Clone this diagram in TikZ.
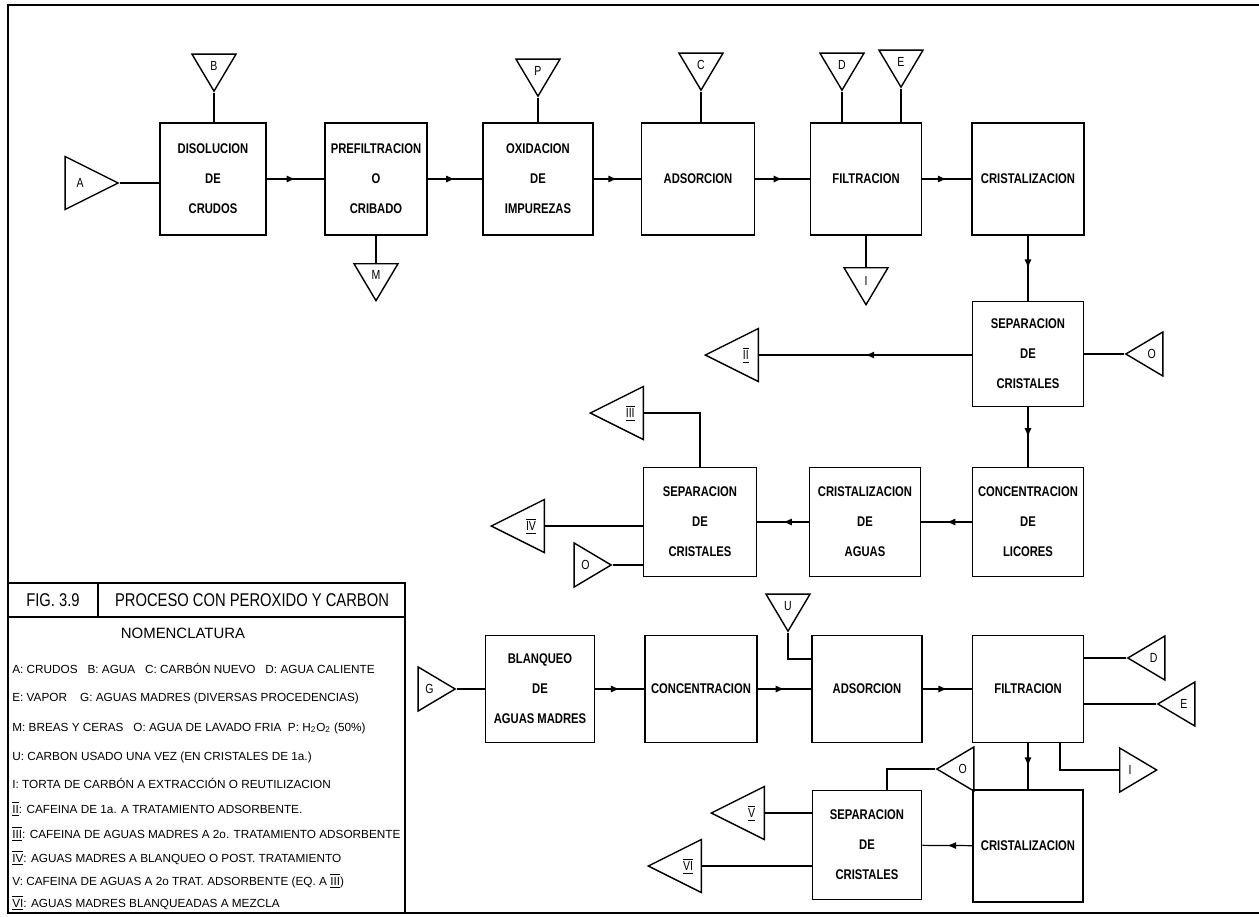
\documentclass[tikz,border=0pt]{standalone}
\usepackage{fontspec}
\setmainfont{Liberation Sans}[FakeStretch=0.8]
\newfontfamily\legfont{Liberation Sans}
\usetikzlibrary{shapes.geometric,decorations.markings,arrows.meta}

\newcommand{\rom}[1]{$\overline{\underline{\hbox{#1}}}$}

\tikzset{
  caja/.style={draw, line width=0.9pt, minimum width=2.22cm, minimum height=2.18cm,
    align=center, inner sep=1pt, font=\bfseries\fontsize{8}{17}\selectfont},
  alta/.style={minimum height=2.24cm},
  tri/.style={draw, isosceles triangle, isosceles triangle stretches, inner sep=0pt,
    line width=0.8pt, font=\fontsize{7.5}{8}\selectfont},
  chico/.style={tri, minimum width=0.88cm, minimum height=0.74cm},
  grande/.style={tri, minimum width=1.06cm, minimum height=1.06cm},
  abajo/.style={shape border rotate=270},
  izq/.style={shape border rotate=180},
  der/.style={shape border rotate=0},
  flujo/.style={line width=0.7pt},
  flecha/.style={flujo, postaction={decorate},
    decoration={markings, mark=at position 0.5 with {\arrow{Latex[length=5pt,width=4pt]}}}},
  leyenda/.style={anchor=west, inner sep=0pt, font=\legfont\fontsize{6.7}{8}\selectfont},
}

\begin{document}
\begin{tikzpicture}[x=0.02cm, y=-0.02cm]
   \useasboundingbox (0,0) rectangle (1259,917);

   % marco y cajetin
   \draw[line width=1pt] (1259,5) -- (8,5) -- (8,913) -- (1259,913);
   \draw[line width=0.9pt] (8,583) -- (405,583) -- (405,913);
   \draw[line width=0.9pt] (8,617) -- (405,617);
   \draw[line width=0.9pt] (98,583) -- (98,617);

   % primera linea: crudos hasta cristalizacion
   \node[caja, alta, minimum width=2.12cm] (dis) at (213,179) {DISOLUCION\\DE\\CRUDOS};
   \node[caja, alta, minimum width=2.04cm] (pre) at (376,179) {PREFILTRACION\\O\\CRIBADO};
   \node[caja, alta, minimum width=2.2cm] (oxi) at (538,179) {OXIDACION\\DE\\IMPUREZAS};
   \node[caja, alta, minimum width=2.26cm] (ads) at (698,179) {ADSORCION};
   \node[caja, alta] (fil) at (866,179) {FILTRACION};
   \node[caja, alta, minimum width=2.24cm] (cri) at (1028,179) {CRISTALIZACION};

   \node[grande, anchor=apex] (A) at (120,183) {A};
   \node[chico, abajo, anchor=apex] (B) at (214,93) {B};
   \node[chico, abajo, anchor=apex] (P) at (538,98) {P};
   \node[chico, abajo, anchor=apex] (C) at (701,92) {C};
   \node[chico, abajo, anchor=apex] (D) at (842,92) {D};
   \node[chico, abajo, anchor=apex] (E) at (901,89) {E};
   \node[chico, abajo, anchor=lower side] (M) at (376,263) {M};
   \node[chico, abajo, anchor=lower side] (I1) at (866,267) {I};

   \draw[flujo] (A.apex) -- (A.apex -| dis.west);
   \draw[flujo] (B.apex) -- (B.apex |- dis.north);
   \draw[flujo] (P.apex) -- (P.apex |- oxi.north);
   \draw[flujo] (C.apex) -- (C.apex |- ads.north);
   \draw[flujo] (D.apex) -- (D.apex |- fil.north);
   \draw[flujo] (E.apex) -- (E.apex |- fil.north);
   \draw[flecha] (dis) -- (pre);
   \draw[flecha] (pre) -- (oxi);
   \draw[flecha] (oxi) -- (ads);
   \draw[flecha] (ads) -- (fil);
   \draw[flecha] (fil) -- (cri);
   \draw[flujo] (pre.south) -- (M.lower side);
   \draw[flujo] (I1.lower side |- fil.south) -- (I1.lower side);

   % separacion y aguas madres
   \node[caja, minimum height=2.1cm] (sep1) at (1028,354) {SEPARACION\\DE\\CRISTALES};
   \node[caja] (con1) at (1028,522) {CONCENTRACION\\DE\\LICORES};
   \node[caja] (cria) at (865,522) {CRISTALIZACION\\DE\\AGUAS};
   \node[caja, minimum width=2.26cm] (sep2) at (700,522) {SEPARACION\\DE\\CRISTALES};

   \node[grande, izq, anchor=lower side] (II) at (759,355) {\rom{II}};
   \node[chico, izq, anchor=apex] (O1) at (1124,354) {O};
   \node[grande, izq, anchor=lower side] (III) at (644,413) {\rom{III}};
   \node[grande, izq, anchor=lower side] (IV) at (545,526) {\rom{IV}};
   \node[chico, der, anchor=apex] (O2) at (613,565) {O};

   \draw[flecha] (cri) -- (sep1);
   \draw[flecha] (sep1.west |- II.lower side) -- (II.lower side);
   \draw[flujo] (O1.apex) -- (O1.apex -| sep1.east);
   \draw[flecha] (sep1) -- (con1);
   \draw[flecha] (con1) -- (cria);
   \draw[flecha] (cria) -- (sep2);
   \draw[flujo] (sep2.north) |- (III.lower side);
   \draw[flujo] (sep2.west |- IV.lower side) -- (IV.lower side);
   \draw[flujo] (O2.apex) -- (O2.apex -| sep2.west);

   % blanqueo de aguas madres
   \node[caja, minimum width=2.18cm, minimum height=2.14cm] (bla) at (540,689) {BLANQUEO\\DE\\AGUAS MADRES};
   \node[caja, minimum width=2.24cm, minimum height=2.14cm] (con2) at (701,689) {CONCENTRACION};
   \node[caja, minimum width=2.2cm, minimum height=2.14cm] (ads2) at (867,689) {ADSORCION};
   \node[caja, minimum height=2.14cm] (fil2) at (1028,689) {FILTRACION};
   \node[caja, minimum width=2.2cm, minimum height=2.24cm] (cri2) at (1028,846) {CRISTALIZACION};
   \node[caja, minimum width=2.18cm] (sep3) at (867,845) {SEPARACION\\DE\\CRISTALES};

   \node[chico, der, anchor=apex] (G) at (457,689) {G};
   \node[chico, abajo, anchor=apex] (U) at (788,633) {U};
   \node[chico, izq, anchor=apex] (D2) at (1126,658) {D};
   \node[chico, izq, anchor=apex] (E2) at (1156,704) {E};
   \node[chico, der, anchor=lower side] (I2) at (1119,770) {I};
   \node[chico, izq, anchor=apex] (O3) at (935,769) {O};
   \node[grande, izq, anchor=lower side] (V) at (765,813) {\rom{V}};
   \node[grande, izq, anchor=lower side] (VI) at (702,866) {\rom{VI}};

   \draw[flujo] (G.apex) -- (G.apex -| bla.west);
   \draw[flecha] (bla) -- (con2);
   \draw[flecha] (con2) -- (ads2);
   \draw[flecha] (ads2) -- (fil2);
   \draw[flujo] (U.apex) |- ([yshift=0.6cm]ads2.west);
   \draw[flujo] (D2.apex) -- (D2.apex -| fil2.east);
   \draw[flujo] (E2.apex) -- (E2.apex -| fil2.east);
   \draw[flujo] ([xshift=0.64cm]fil2.south) |- (I2.lower side);
   \draw[flecha] (fil2) -- (cri2);
   \draw[flecha] (cri2) -- (sep3);
   \draw[flujo] ([xshift=0.4cm]sep3.north) |- (O3.apex);
   \draw[flujo] (sep3.west |- V.lower side) -- (V.lower side);
   \draw[flujo] (sep3.west |- VI.lower side) -- (VI.lower side);

   % cajetin: titulo y nomenclatura
   \node[font=\fontsize{10.5}{12}\selectfont] (fig) at (53,600) {FIG. 3.9};
   \node[font=\fontsize{10.5}{12}\selectfont] (tit) at (252,600) {PROCESO CON PEROXIDO Y CARBON};
   \node[font=\legfont\fontsize{8.5}{10}\selectfont] (nom) at (183,633) {NOMENCLATURA};
   \node[leyenda] (l1) at (12,668) {A: CRUDOS~~ B: AGUA~~ C: CARBÓN NUEVO~~ D: AGUA CALIENTE};
   \node[leyenda] (l2) at (12,698) {E: VAPOR~~~ G: AGUAS MADRES (DIVERSAS PROCEDENCIAS)};
   \node[leyenda] (l3) at (12,728) {M: BREAS Y CERAS~~ O: AGUA DE LAVADO FRIA~ P: H\textsubscript{2}O\textsubscript{2} (50\%)};
   \node[leyenda] (l4) at (12,757) {U: CARBON USADO UNA VEZ (EN CRISTALES DE 1a.)};
   \node[leyenda] (l5) at (12,783) {I: TORTA DE CARBÓN A EXTRACCIÓN O REUTILIZACION};
   \node[leyenda] (l6) at (12,809) {\rom{II}: CAFEINA DE 1a. A TRATAMIENTO ADSORBENTE.};
   \node[leyenda] (l7) at (12,834) {\rom{III}: CAFEINA DE AGUAS MADRES A 2o. TRATAMIENTO ADSORBENTE};
   \node[leyenda] (l8) at (12,858) {\rom{IV}: AGUAS MADRES A BLANQUEO O POST. TRATAMIENTO};
   \node[leyenda] (l9) at (12,881) {V: CAFEINA DE AGUAS A 2o TRAT. ADSORBENTE (EQ. A \rom{III})};
   \node[leyenda] (l10) at (12,903) {\rom{VI}: AGUAS MADRES BLANQUEADAS A MEZCLA};
\end{tikzpicture}
\end{document}
